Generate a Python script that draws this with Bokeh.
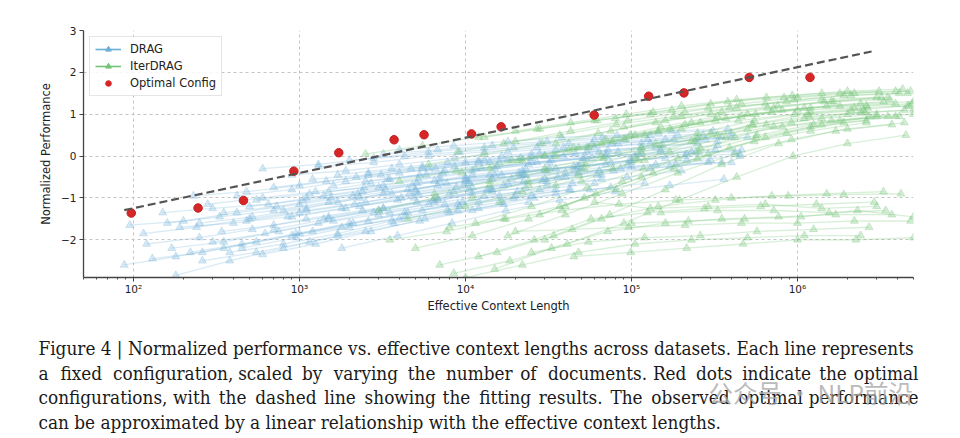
import math
from bokeh.plotting import figure
from bokeh.layouts import column
from bokeh.models import (Range1d, FixedTicker, CustomJSTickFormatter, Legend,
                          LegendItem, Label)
from bokeh.embed import file_html
from bokeh.resources import INLINE

# ---------------- data ----------------
drag_x = [
    [88, 180, 350, 900, 1800, 4000, 9000],
    [95, 200, 420, 1000, 2100, 4500, 10000, 22000],
    [115, 240, 500, 1100, 2500, 5200, 11000],
    [130, 260, 550, 1200, 2600, 5500, 12000, 25000],
    [150, 300, 650, 1400, 3000, 6500, 14000, 30000],
    [170, 350, 750, 1600, 3500, 7500, 16000, 35000],
    [180, 380, 800, 1700, 3700, 8000, 17000],
    [190, 400, 850, 1800, 3900, 8500, 18000, 40000],
    [220, 450, 950, 2000, 4300, 9000, 20000, 43000],
    [250, 520, 1100, 2300, 5000, 10500, 23000, 50000],
    [280, 600, 1250, 2700, 5800, 12500, 27000, 58000],
    [300, 620, 1300, 2800, 6000, 13000, 28000, 60000],
    [350, 730, 1550, 3300, 7000, 15000, 32000, 70000],
    [380, 800, 1700, 3600, 7800, 16500, 35000, 75000],
    [420, 900, 1900, 4000, 8600, 18000, 39000, 83000],
    [480, 1000, 2150, 4600, 9800, 21000, 45000, 95000],
    [550, 1150, 2450, 5200, 11000, 24000, 51000, 110000],
    [600, 1250, 2700, 5700, 12000, 26000, 56000, 120000],
    [700, 1450, 3100, 6600, 14000, 30000, 64000, 140000],
    [800, 1700, 3600, 7700, 16500, 35000, 75000, 160000],
    [900, 1900, 4000, 8600, 18000, 39000, 83000, 180000],
    [1000, 2100, 4500, 9600, 20500, 44000, 94000, 200000],
    [1100, 2400, 5100, 11000, 23000, 50000, 105000, 230000],
    [1300, 2800, 6000, 13000, 27000, 58000, 125000, 270000],
    [1400, 3000, 6400, 13500, 29000, 62000, 130000, 290000],
    [1600, 3400, 7300, 15500, 33000, 71000, 150000, 330000],
    [1800, 3900, 8300, 17500, 37000, 80000, 170000, 360000],
    [2000, 4300, 9200, 19500, 42000, 90000, 190000, 400000],
    [2300, 4900, 10500, 22500, 48000, 100000, 215000, 450000],
    [600, 1300, 2800, 6000, 13000, 28000, 60000, 130000],
    [3500, 7500, 16000, 34000, 72000, 155000, 330000],
    [4000, 8500, 18000, 38000, 82000, 175000, 380000],
    [5000, 10500, 22500, 48000, 100000, 215000, 460000],
    [160, 330, 700, 1500, 3200, 6800, 14500],
    [260, 550, 1150, 2500, 5300, 11000, 24000],
    [450, 950, 2000, 4300, 9200, 19500, 42000],
    [2600, 5500, 12000, 25000, 54000, 115000, 250000, 500000],
    [700, 1500, 3200, 6800, 14500, 31000, 66000],
    [1200, 2600, 5500, 12000, 25000, 54000, 115000, 250000],
    [340, 700, 1500, 3200, 6800, 14500, 31000, 66000],
    [1500, 3200, 7000, 15000, 32000, 70000, 150000, 320000],
    [2500, 5300, 11500, 25000, 53000, 115000, 245000, 420000],
    [3000, 6500, 14000, 30000, 64000, 140000, 300000],
    [6000, 13000, 28000, 60000, 130000, 280000, 400000],
    [8000, 17000, 36000, 78000, 170000, 350000],
    [900, 1900, 4100, 8800, 19000, 40000, 86000, 185000, 400000],
    [500, 1050, 2250, 4800, 10000, 22000, 47000, 100000],
    [230, 480, 1000, 2200, 4700, 10000, 21500, 46000],
    [120, 250, 520, 1100, 2400, 5100, 11000, 23000],
    [10000, 21000, 45000, 97000, 210000, 450000],
    [1700, 3600, 7800, 16500, 35000, 76000, 160000, 350000],
    [3200, 6800, 14500, 31000, 67000, 145000, 310000],
]
drag_y = [
    [-2.6, -2.4, -2.2, -1.9, -1.7, -1.5, -1.3],
    [-1.65, -1.55, -1.35, -1.15, -0.95, -0.8, -0.6, -0.45],
    [-1.85, -1.7, -1.5, -1.3, -1.1, -0.9, -0.75],
    [-2.45, -2.3, -2.05, -1.8, -1.55, -1.3, -1.1, -0.95],
    [-1.35, -1.25, -1.15, -0.95, -0.75, -0.6, -0.45, -0.35],
    [-2.2, -2.05, -1.8, -1.55, -1.35, -1.15, -0.95, -0.8],
    [-2.85, -2.5, -2.2, -1.9, -1.6, -1.35, -1.15],
    [-1.7, -1.6, -1.45, -1.25, -1.05, -0.85, -0.65, -0.5],
    [-2.3, -2.1, -1.85, -1.6, -1.35, -1.15, -0.95, -0.8],
    [-1.6, -1.45, -1.25, -1.0, -0.8, -0.6, -0.45, -0.3],
    [-1.15, -1.0, -0.85, -0.65, -0.45, -0.3, -0.15, -0.05],
    [-2.05, -1.85, -1.6, -1.35, -1.15, -0.95, -0.8, -0.65],
    [-1.35, -1.2, -1.0, -0.8, -0.6, -0.45, -0.3, -0.2],
    [-2.3, -2.1, -1.85, -1.55, -1.3, -1.1, -0.9, -0.75],
    [-0.95, -0.8, -0.6, -0.4, -0.25, -0.1, 0.0, 0.1],
    [-1.55, -1.35, -1.15, -0.9, -0.7, -0.5, -0.35, -0.2],
    [-1.05, -0.9, -0.75, -0.55, -0.35, -0.2, -0.05, 0.05],
    [-2.35, -2.1, -1.8, -1.5, -1.25, -1.0, -0.8, -0.65],
    [-0.75, -0.6, -0.45, -0.3, -0.15, 0.0, 0.1, 0.2],
    [-1.3, -1.1, -0.9, -0.65, -0.45, -0.3, -0.15, -0.05],
    [-0.45, -0.35, -0.2, -0.05, 0.1, 0.2, 0.3, 0.4],
    [-1.85, -1.6, -1.35, -1.1, -0.85, -0.65, -0.5, -0.35],
    [-1.0, -0.85, -0.65, -0.45, -0.3, -0.15, 0.0, 0.1],
    [-0.25, -0.15, 0.0, 0.1, 0.2, 0.3, 0.4, 0.5],
    [-1.5, -1.3, -1.05, -0.8, -0.6, -0.45, -0.3, -0.15],
    [-0.7, -0.55, -0.4, -0.25, -0.1, 0.05, 0.15, 0.25],
    [-2.2, -1.9, -1.6, -1.3, -1.05, -0.85, -0.7, -0.55],
    [-0.1, 0.0, 0.1, 0.2, 0.3, 0.4, 0.5, 0.55],
    [-1.2, -1.0, -0.8, -0.6, -0.4, -0.25, -0.1, 0.0],
    [-0.3, -0.2, -0.05, 0.1, 0.2, 0.3, 0.4, 0.5],
    [-0.55, -0.35, -0.15, 0.0, 0.15, 0.25, 0.35],
    [0.15, 0.25, 0.35, 0.45, 0.5, 0.6, 0.65],
    [-0.85, -0.65, -0.45, -0.25, -0.1, 0.05, 0.15],
    [-1.6, -1.45, -1.3, -1.1, -0.9, -0.7, -0.55],
    [-2.5, -2.3, -2.05, -1.8, -1.55, -1.3, -1.1],
    [-2.2, -1.95, -1.7, -1.45, -1.2, -1.0, -0.8],
    [-0.4, -0.25, -0.1, 0.05, 0.2, 0.3, 0.4, 0.45],
    [-1.75, -1.5, -1.25, -1.0, -0.8, -0.6, -0.45],
    [-0.55, -0.45, -0.3, -0.15, -0.05, 0.1, 0.2, 0.3],
    [-1.8, -1.65, -1.45, -1.25, -1.05, -0.85, -0.7, -0.55],
    [-0.85, -0.7, -0.5, -0.3, -0.15, 0.0, 0.1, 0.15],
    [-0.6, -0.45, -0.3, -0.15, -0.05, 0.05, 0.1, 0.1],
    [-1.4, -1.1, -0.8, -0.55, -0.35, -0.2, -0.1],
    [-0.3, -0.1, 0.05, 0.2, 0.3, 0.4, 0.45],
    [-0.9, -0.7, -0.5, -0.35, -0.25, -0.15],
    [-1.45, -1.25, -1.0, -0.75, -0.55, -0.4, -0.3, -0.2, -0.15],
    [-1.2, -1.05, -0.9, -0.7, -0.5, -0.35, -0.25, -0.15],
    [-0.95, -0.85, -0.7, -0.5, -0.3, -0.15, -0.05, 0.05],
    [-2.1, -1.95, -1.75, -1.5, -1.3, -1.1, -0.9, -0.75],
    [-0.55, -0.4, -0.25, -0.1, 0.0, 0.05],
    [-0.45, -0.3, -0.15, 0.0, 0.15, 0.3, 0.4, 0.45],
    [0.05, 0.15, 0.25, 0.35, 0.45, 0.55, 0.6],
]

iter_x = [
    [2500, 5500, 12000, 27000, 60000, 130000, 290000, 640000, 1400000, 3000000],
    [3000, 6500, 14000, 31000, 68000, 150000, 330000, 720000, 1600000, 3500000],
    [4000, 8800, 19000, 42000, 92000, 200000, 440000, 960000, 2100000, 4600000],
    [5000, 11000, 24000, 52000, 115000, 250000, 550000, 1200000, 2600000],
    [6000, 13000, 29000, 63000, 140000, 300000, 660000, 1450000, 3200000],
    [7000, 15500, 34000, 74000, 160000, 350000, 770000, 1700000, 3700000],
    [8000, 17500, 38000, 84000, 185000, 400000, 880000, 1900000, 4200000],
    [9000, 20000, 43000, 95000, 210000, 460000, 1000000, 2200000, 4800000],
    [10000, 22000, 48000, 105000, 230000, 500000, 1100000, 2400000],
    [11000, 24000, 53000, 115000, 250000, 550000, 1200000, 2650000],
    [12000, 26000, 57000, 125000, 275000, 600000, 1300000, 2900000],
    [14000, 30000, 66000, 145000, 320000, 700000, 1500000, 3300000],
    [15000, 33000, 72000, 160000, 350000, 770000, 1700000, 3700000],
    [17000, 37000, 81000, 180000, 390000, 860000, 1900000, 4100000],
    [18000, 40000, 88000, 190000, 420000, 920000, 2000000, 4400000],
    [20000, 44000, 96000, 210000, 460000, 1000000, 2200000, 4800000],
    [22000, 48000, 105000, 230000, 500000, 1100000, 2400000, 5000000],
    [25000, 55000, 120000, 260000, 570000, 1250000, 2700000],
    [28000, 61000, 135000, 290000, 640000, 1400000, 3000000],
    [30000, 66000, 145000, 320000, 700000, 1500000, 3300000],
    [35000, 77000, 170000, 370000, 810000, 1800000, 3900000],
    [40000, 88000, 190000, 420000, 920000, 2000000, 4400000],
    [45000, 99000, 215000, 470000, 1000000, 2250000, 5000000],
    [50000, 110000, 240000, 530000, 1150000, 2500000],
    [60000, 130000, 290000, 640000, 1400000, 3000000],
    [3500, 7700, 17000, 37000, 81000, 180000, 390000, 860000, 1900000, 4100000],
    [13000, 28000, 62000, 135000, 300000, 650000, 1400000, 3100000],
    [4500, 10000, 22000, 48000, 105000, 230000, 500000, 1100000, 2400000, 5000000],
    [70000, 150000, 330000, 720000, 1600000, 3500000],
    [90000, 200000, 430000, 950000, 2100000, 4600000],
    [8500, 18500, 41000, 90000, 195000, 430000, 940000, 2000000, 4500000],
    [100000, 220000, 480000, 1050000, 2300000, 5000000],
    [16000, 35000, 77000, 170000, 370000, 810000, 1800000, 3900000],
    [120000, 260000, 570000, 1250000, 2700000, 5000000],
    [20000, 43000, 93000, 200000, 430000, 930000, 2000000, 4300000],
    [35000, 75000, 160000, 350000, 760000, 1650000, 3600000],
    [6500, 14000, 30000, 65000, 140000, 300000, 650000, 1400000, 3000000],
    [9500, 21000, 45000, 98000, 210000, 460000, 1000000, 2200000, 4700000],
    [55000, 120000, 260000, 560000, 1200000, 2600000, 4900000],
    [11500, 25000, 54000, 118000, 255000, 560000, 1200000, 2600000],
    [80000, 175000, 380000, 830000, 1800000, 3900000],
    [24000, 52000, 115000, 250000, 540000, 1180000, 2550000],
    [150000, 330000, 720000, 1550000, 3400000],
]
iter_y = [
    [0.05, 0.25, 0.45, 0.65, 0.85, 1.0, 1.15, 1.25, 1.35, 1.4],
    [-1.3, -1.0, -0.7, -0.35, -0.05, 0.25, 0.5, 0.7, 0.85, 0.95],
    [-0.6, -0.35, -0.1, 0.15, 0.4, 0.65, 0.85, 1.0, 1.1, 1.2],
    [-2.2, -1.9, -1.5, -1.0, -0.5, -0.05, 0.35, 0.6, 0.8],
    [-0.2, 0.05, 0.3, 0.55, 0.8, 1.0, 1.15, 1.3, 1.4],
    [-2.6, -2.3, -1.9, -1.4, -0.8, -0.2, 0.3, 0.6, 0.75],
    [-1.7, -1.5, -1.3, -1.15, -1.05, -1.0, -0.95, -0.92, -0.9],
    [0.1, 0.35, 0.6, 0.85, 1.05, 1.25, 1.4, 1.5, 1.55],
    [-2.9, -2.6, -2.3, -2.1, -2.0, -1.95, -1.9, -1.9],
    [-1.0, -0.6, -0.2, 0.2, 0.55, 0.85, 1.05, 1.15],
    [-2.4, -2.0, -1.5, -1.35, -1.25, -1.2, -1.15, -1.1],
    [-0.3, 0.0, 0.3, 0.6, 0.85, 1.05, 1.2, 1.3],
    [-2.7, -2.2, -1.8, -1.6, -1.5, -1.45, -1.4, -1.4],
    [0.3, 0.5, 0.75, 0.95, 1.15, 1.3, 1.45, 1.5],
    [-1.9, -1.4, -0.9, -0.4, 0.05, 0.4, 0.65, 0.8],
    [-1.8, -1.75, -1.7, -1.65, -1.6, -1.6, -1.55, -1.55],
    [-0.1, 0.2, 0.5, 0.8, 1.0, 1.15, 1.25, 1.3],
    [-2.3, -2.05, -1.95, -1.9, -1.8, -1.75, -1.7],
    [-1.4, -0.9, -0.4, 0.05, 0.45, 0.75, 0.95],
    [-2.0, -1.5, -1.2, -1.05, -0.95, -0.9, -0.85],
    [0.0, 0.35, 0.65, 0.9, 1.1, 1.2, 1.25],
    [-1.2, -0.6, -0.05, 0.45, 0.8, 1.0, 1.1],
    [-2.4, -2.3, -2.2, -2.1, -2.0, -2.0, -1.95],
    [-0.6, -0.1, 0.35, 0.75, 1.0, 1.1],
    [-1.1, -1.25, -1.2, -1.15, -1.25, -1.2],
    [-2.0, -1.8, -1.5, -1.2, -0.8, -0.3, 0.2, 0.55, 0.8, 0.95],
    [0.45, 0.65, 0.85, 1.05, 1.25, 1.4, 1.5, 1.55],
    [-1.5, -1.2, -0.85, -0.45, -0.05, 0.35, 0.65, 0.9, 1.05, 1.1],
    [0.4, 0.7, 0.95, 1.15, 1.3, 1.4],
    [0.7, 0.95, 1.15, 1.35, 1.45, 1.5],
    [-2.8, -2.5, -2.1, -1.6, -1.05, -0.5, 0.0, 0.3, 0.5],
    [-1.6, -1.55, -1.5, -1.45, -1.3, -1.45],
    [-1.1, -0.7, -0.3, 0.1, 0.45, 0.7, 0.85, 0.95],
    [-0.1, 0.2, 0.5, 0.75, 0.95, 1.0],
    [0.6, 0.8, 1.0, 1.2, 1.35, 1.45, 1.55, 1.6],
    [0.3, 0.6, 0.85, 1.05, 1.2, 1.3, 1.35],
    [-0.9, -0.6, -0.3, 0.0, 0.3, 0.55, 0.75, 0.9, 1.0],
    [-0.4, -0.1, 0.2, 0.5, 0.75, 0.95, 1.1, 1.15, 1.2],
    [0.2, 0.5, 0.8, 1.0, 1.15, 1.2, 1.25],
    [-1.6, -1.2, -0.75, -0.3, 0.1, 0.45, 0.7, 0.85],
    [0.9, 1.1, 1.3, 1.4, 1.5, 1.55],
    [-0.7, -0.3, 0.1, 0.45, 0.75, 0.95, 1.05],
    [-1.35, -1.3, -1.3, -1.35, -1.3],
]

opt_x = [97, 245, 460, 925, 1725, 3715, 5630, 10870, 16400, 59600,
         127000, 207000, 512000, 1190000]
opt_y = [-1.36, -1.24, -1.06, -0.36, 0.08, 0.39, 0.51, 0.53, 0.70, 0.98,
         1.43, 1.51, 1.88, 1.88]

fit_x = [88, 2900000]
fit_intercept = -2.929
fit_slope = 0.842

x_ticks = [1e2, 1e3, 1e4, 1e5, 1e6]
y_ticks = [-2, -1, 0, 1, 2, 3]

series_labels = ["DRAG", "IterDRAG", "Optimal Config"]
x_label = "Effective Context Length"
y_label = "Normalized Performance"

caption_lines = [
    "Figure 4 | Normalized performance vs. effective context lengths across datasets. Each line represents",
    "a fixed configuration, scaled by varying the number of documents. Red dots indicate the optimal",
    "configurations, with the dashed line showing the fitting results. The observed optimal performance",
    "can be approximated by a linear relationship with the effective context lengths.",
]
watermark = "公众号 · NLP前沿"

# ---------------- styling ----------------
DRAG_C = "#6baed6"
ITER_C = "#74c476"
RED_C = "#d62728"
AX_FONT = "DejaVu Sans"
CAP_FONT = "DejaVu Serif Condensed"
NAN = float("nan")

p = figure(width=960, height=320, x_axis_type="log",
           x_range=Range1d(50, 5e6), y_range=Range1d(-2.9, 3.0),
           output_backend="svg", toolbar_location=None,
           min_border_left=83, min_border_right=47,
           min_border_top=30, min_border_bottom=43)
p.frame_align = False
p.outline_line_color = None
p.background_fill_color = "white"
p.border_fill_color = "white"


def flat(a):
    return [v for row in a for v in row]


p.multi_line(xs=drag_x, ys=drag_y, line_color=DRAG_C, line_alpha=0.25, line_width=1.3)
p.scatter(x=flat(drag_x), y=flat(drag_y), marker="triangle", size=8,
          fill_color=DRAG_C, fill_alpha=0.27, line_color=DRAG_C, line_alpha=0.27)
p.multi_line(xs=iter_x, ys=iter_y, line_color=ITER_C, line_alpha=0.28, line_width=1.3)
p.scatter(x=flat(iter_x), y=flat(iter_y), marker="triangle", size=8,
          fill_color=ITER_C, fill_alpha=0.3, line_color=ITER_C, line_alpha=0.3)

p.scatter(x=opt_x, y=opt_y, marker="circle", size=8.5,
          fill_color=RED_C, line_color="#c41e1e", line_width=1)

fit_y = [fit_intercept + fit_slope * math.log10(v) for v in fit_x]
p.line(x=fit_x, y=fit_y, line_color="#555555", line_width=2.2, line_dash="8 4")

# legend proxies (invisible NaN data)
ld = p.line(x=[NAN, NAN], y=[NAN, NAN], line_color=DRAG_C, line_width=1.6)
sd = p.scatter(x=[NAN], y=[NAN], marker="triangle", size=7, fill_color=DRAG_C, line_color=DRAG_C)
li = p.line(x=[NAN, NAN], y=[NAN, NAN], line_color=ITER_C, line_width=1.6)
si = p.scatter(x=[NAN], y=[NAN], marker="triangle", size=7, fill_color=ITER_C, line_color=ITER_C)
so = p.scatter(x=[NAN], y=[NAN], marker="circle", size=7, fill_color=RED_C, line_color=RED_C)

legend = Legend(items=[
    LegendItem(label=series_labels[0], renderers=[ld, sd]),
    LegendItem(label=series_labels[1], renderers=[li, si]),
    LegendItem(label=series_labels[2], renderers=[so]),
], location="top_left")
legend.margin = 6
legend.padding = 5
legend.spacing = 3
legend.glyph_width = 26
legend.glyph_height = 14
legend.label_height = 14
legend.label_standoff = 9
legend.label_text_font = AX_FONT
legend.label_text_font_size = "11.5px"
legend.label_text_color = "#222222"
legend.border_line_color = "#cccccc"
legend.border_line_width = 1
legend.background_fill_alpha = 0.85
p.add_layout(legend, "center")

# axes
p.xaxis.ticker = FixedTicker(ticks=x_ticks,
                             minor_ticks=[m * 10 ** k for k in range(1, 7) for m in range(2, 10)])
p.yaxis.ticker = FixedTicker(ticks=y_ticks)
p.xaxis.formatter = CustomJSTickFormatter(code="""
const sup = {"0":"\u2070","1":"\u00b9","2":"\u00b2","3":"\u00b3","4":"\u2074",
             "5":"\u2075","6":"\u2076","7":"\u2077","8":"\u2078","9":"\u2079"};
const e = Math.round(Math.log10(tick));
return "10" + String(e).split("").map(c => sup[c]).join("");
""")
p.yaxis.formatter = CustomJSTickFormatter(code="""
return tick < 0 ? "\u2212" + String(-tick) : String(tick);
""")
for ax in (p.xaxis, p.yaxis):
    ax.axis_line_color = "#444444"
    ax.axis_line_width = 1.3
    ax.major_tick_line_color = "#444444"
    ax.minor_tick_line_color = "#444444"
    ax.major_tick_out = 4
    ax.major_tick_in = 0
    ax.minor_tick_out = 2
    ax.minor_tick_in = 0
    ax.major_label_text_font = AX_FONT
    ax.major_label_text_font_size = "10.5px"
    ax.major_label_text_color = "#222222"
    ax.axis_label_text_font = AX_FONT
    ax.axis_label_text_font_size = "11.5px"
    ax.axis_label_text_font_style = "normal"
    ax.axis_label_text_color = "#222222"
p.yaxis.minor_tick_line_color = None
p.xaxis.axis_label = x_label
p.yaxis.axis_label = y_label
p.xaxis.major_label_standoff = 1
p.xaxis.axis_label_standoff = 1
p.yaxis.major_label_standoff = 3
p.yaxis.axis_label_standoff = 5

p.xgrid.ticker = FixedTicker(ticks=x_ticks)
p.ygrid.ticker = FixedTicker(ticks=y_ticks)
p.grid.grid_line_color = "#c4c4c4"
p.grid.grid_line_dash = "3 3"
p.grid.grid_line_width = 1

# ---------------- caption panel ----------------
cap = figure(width=960, height=118, x_range=Range1d(0, 960), y_range=Range1d(0, 118),
             output_backend="svg", toolbar_location=None,
             x_axis_location=None, y_axis_location=None,
             min_border_left=0, min_border_right=0, min_border_top=0, min_border_bottom=0)
cap.frame_align = False
cap.outline_line_color = None
cap.grid.visible = False
cap.background_fill_color = "white"
cap.border_fill_color = "white"

CAP_LEFT, CAP_RIGHT = 38, 918
cap_centers = [89.6, 65, 40.6, 16.1]
# approximate relative glyph advances, used only to justify lines 2 and 3
ADV = {" ": 0.32, "i": 0.32, "l": 0.32, "j": 0.31, "f": 0.37, "t": 0.40, "r": 0.48,
       ",": 0.32, ".": 0.32, "m": 0.95, "w": 0.86, "s": 0.51, "c": 0.56, "z": 0.53,
       "R": 0.71, "T": 0.67}
natural_w = {1: 782, 2: 827}          # rendered width of unjustified lines 2 and 3


def adv(s):
    return sum(ADV.get(ch, 0.62) for ch in s)


cap_style = dict(x_units="screen", y_units="screen", text_font=CAP_FONT,
                 text_font_size="18.8px", text_color="#1a1a1a", text_baseline="middle")
for i, (txt, yy) in enumerate(zip(caption_lines, cap_centers)):
    if i not in natural_w:
        cap.add_layout(Label(x=CAP_LEFT, y=yy, text=txt, **cap_style))
        continue
    words = txt.split(" ")
    total = adv(txt)
    extra = (CAP_RIGHT - CAP_LEFT - natural_w[i]) / (len(words) - 1)
    off = 0.0
    for k, w in enumerate(words):
        if k == len(words) - 1:
            cap.add_layout(Label(x=CAP_RIGHT, y=yy, text=w, text_align="right", **cap_style))
        else:
            xx = CAP_LEFT + off / total * natural_w[i] + k * extra
            cap.add_layout(Label(x=xx, y=yy, text=w, **cap_style))
        off += adv(w + " ")

cap.add_layout(Label(x=708, y=46, x_units="screen", y_units="screen", text=watermark,
                     text_font="Noto Sans CJK SC", text_font_size="24.5px",
                     text_color="#a8a8a8", text_alpha=0.8, text_baseline="middle"))

open("out.html", "w").write(file_html(column(p, cap, spacing=0), INLINE))
